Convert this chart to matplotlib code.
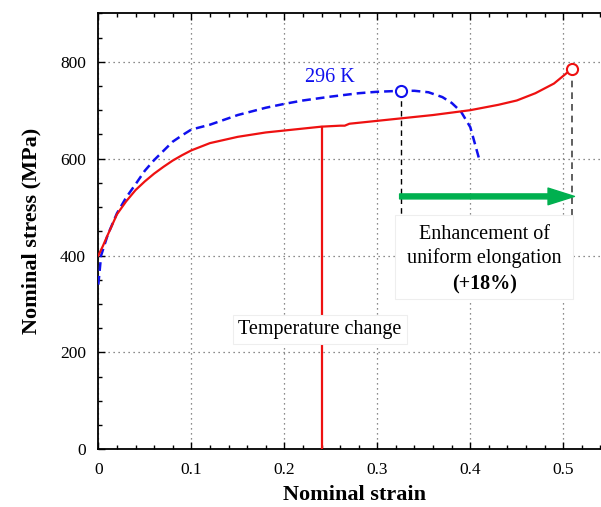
import matplotlib
matplotlib.use("Agg")
import matplotlib.pyplot as plt
from matplotlib.patches import Rectangle
from matplotlib.ticker import MultipleLocator

plt.rcParams["font.family"] = ["Liberation Serif", "DejaVu Serif"]

# changed temperature test (red, solid)
strain_tc = [0, 0.005, 0.01, 0.02, 0.03, 0.04, 0.05, 0.06, 0.07, 0.08, 0.09, 0.1, 0.12,
             0.15, 0.18, 0.2, 0.22, 0.24, 0.26, 0.265, 0.27, 0.3, 0.33, 0.36, 0.4,
             0.43, 0.45, 0.47, 0.49, 0.509]
stress_tc = [400, 420, 442, 485, 512, 535, 553, 569, 583, 596, 607, 617, 632,
             645, 654, 658, 662, 666, 668, 668, 672, 678, 684, 690, 700,
             711, 720, 735, 755, 785]

# 296 K test (blue, dashed)
strain_rt = [0, 0.003, 0.01, 0.02, 0.03, 0.04, 0.05, 0.06, 0.07, 0.08, 0.09, 0.1,
             0.12, 0.15, 0.18, 0.2, 0.22, 0.25, 0.28, 0.3, 0.326, 0.34, 0.355,
             0.37, 0.38, 0.39, 0.4, 0.41]
stress_rt = [340, 400, 442, 487, 520, 547, 575, 597, 616, 635, 648, 660,
             670, 690, 705, 713, 720, 728, 735, 738, 740, 740, 737,
             727, 715, 697, 665, 596]

uel_rt = (0.326, 740)
uel_tc = (0.509, 785)
switch_strain = 0.24
switch_stress = 666

fig = plt.figure(figsize=(6.01, 5.07), dpi=100)
ax = fig.add_axes([0.1636, 0.1138, 0.851, 0.86])

ax.plot(strain_rt, stress_rt, color="#1010ee", lw=1.8, ls=(0, (3.5, 2)), zorder=3)
ax.plot(strain_tc, stress_tc, color="#ee1111", lw=1.6, zorder=4)
ax.plot([switch_strain, switch_strain], [0, switch_stress], color="#ee1111", lw=1.6, zorder=4)

ax.plot([uel_rt[0], uel_rt[0]], [uel_rt[1], 480], color="black", lw=1.0, ls=(0, (4, 3)), zorder=2)
ax.plot([uel_tc[0], uel_tc[0]], [uel_tc[1], 480], color="#444444", lw=1.2, ls=(0, (4, 3)), zorder=2)

ax.plot(*uel_rt, marker="o", ms=8, mfc="white", mec="#1010ee", mew=1.5, zorder=6)
ax.plot(*uel_tc, marker="o", ms=8, mfc="white", mec="#ee1111", mew=1.5, zorder=6)

ax.annotate("", xy=(0.512, 522), xytext=(0.324, 522),
            arrowprops=dict(arrowstyle="simple,head_length=19,head_width=12,tail_width=3.6",
                            mutation_scale=1, color="#00b04f", shrinkA=0, shrinkB=0),
            zorder=7)

box = dict(boxstyle="square,pad=0.25", fc="white", ec="#eeeeee", lw=0.8)
ax.text(0.2385, 247, "Temperature change", fontsize=14.5, ha="center", va="center",
        bbox=box, zorder=8)

ax.add_patch(Rectangle((0.319, 311), 0.191, 172, fc="white", ec="#eeeeee", lw=0.8, zorder=9))
ax.text(0.415, 418, "Enhancement of\nuniform elongation", fontsize=14.5,
        ha="center", va="center", linespacing=1.25, zorder=10)
ax.text(0.415, 340, "(+18%)", fontsize=14.5, fontweight="bold", ha="center",
        va="center", zorder=10)
ax.text(0.249, 768, "296 K", fontsize=14.5, color="#1010ee", ha="center", va="center")

ax.set_xlim(0, 0.55)
ax.set_ylim(0, 900)
ax.xaxis.set_minor_locator(MultipleLocator(0.02))
ax.yaxis.set_major_locator(MultipleLocator(200))
ax.yaxis.set_minor_locator(MultipleLocator(50))
ax.set_xticks([0, 0.1, 0.2, 0.3, 0.4, 0.5])
ax.set_xticklabels(["0", "0.1", "0.2", "0.3", "0.4", "0.5"])
ax.tick_params(which="both", direction="in", top=True, right=False, labelsize=12.5,
               width=1.0)
ax.tick_params(axis="x", pad=9)
ax.tick_params(axis="y", pad=9)
ax.tick_params(which="major", length=5)
ax.tick_params(which="minor", length=3)
ax.grid(True, which="major", ls=(0, (1, 3)), color="#666666", lw=0.9)
ax.set_axisbelow(True)
for s in ["left", "bottom", "top"]:
    ax.spines[s].set_linewidth(1.3)
ax.spines["right"].set_visible(False)

ax.set_xlabel("Nominal strain", fontsize=16, fontweight="bold", labelpad=5)
ax.set_ylabel("Nominal stress (MPa)", fontsize=16, fontweight="bold", labelpad=13)

fig.savefig("out.png", dpi=100)
